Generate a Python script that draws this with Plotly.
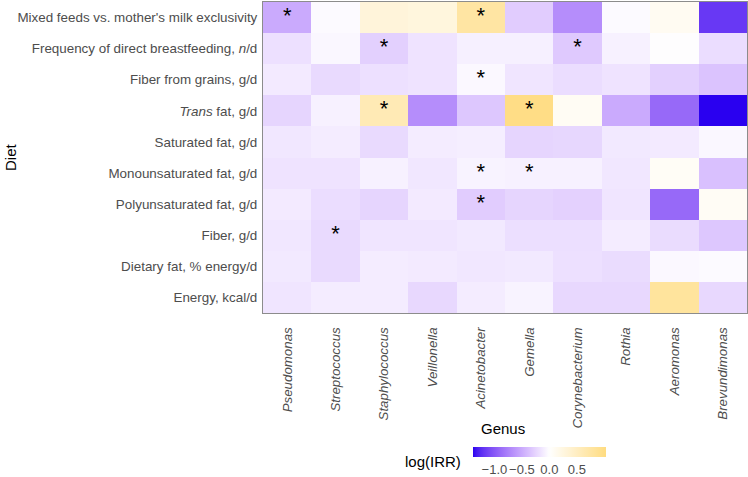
import plotly.graph_objects as go
import numpy as np

genera = ["Pseudomonas", "Streptococcus", "Staphylococcus", "Veillonella", "Acinetobacter",
          "Gemella", "Corynebacterium", "Rothia", "Aeromonas", "Brevundimonas"]

diet = ["Mixed feeds vs. mother's milk exclusivity",
        "Frequency of direct breastfeeding, <i>n</i>/d",
        "Fiber from grains, g/d",
        "<i>Trans</i> fat, g/d",
        "Saturated fat, g/d",
        "Monounsaturated fat, g/d",
        "Polyunsaturated fat, g/d",
        "Fiber, g/d",
        "Dietary fat, % energy/d",
        "Energy, kcal/d"]

# log(IRR) per diet row (top to bottom), columns in genus order
mixed_feeds   = [-0.50, -0.03, 0.30, 0.27, 0.75, -0.30, -0.68, -0.03, 0.10, -1.18]
freq_breast   = [-0.18, -0.05, -0.28, -0.16, -0.09, -0.09, -0.32, -0.08, 0.00, -0.20]
fiber_grains  = [-0.12, -0.22, -0.18, -0.16, -0.04, -0.15, -0.20, -0.16, -0.28, -0.35]
trans_fat     = [-0.25, -0.08, 0.60, -0.68, -0.33, 0.98, 0.09, -0.50, -0.90, -1.39]
saturated     = [-0.14, -0.11, -0.22, -0.11, -0.10, -0.25, -0.24, -0.13, -0.12, -0.05]
monounsat     = [-0.16, -0.16, -0.08, -0.14, -0.07, -0.08, -0.08, -0.14, 0.07, -0.37]
polyunsat     = [-0.12, -0.20, -0.25, -0.12, -0.30, -0.25, -0.27, -0.15, -0.90, 0.08]
fiber         = [-0.14, -0.22, -0.15, -0.15, -0.13, -0.19, -0.19, -0.11, -0.21, -0.33]
dietary_fat   = [-0.13, -0.22, -0.11, -0.12, -0.14, -0.13, -0.18, -0.21, -0.04, -0.03]
energy        = [-0.15, -0.11, -0.11, -0.23, -0.11, -0.07, -0.23, -0.23, 0.80, -0.23]

values = [mixed_feeds, freq_breast, fiber_grains, trans_fat, saturated,
          monounsat, polyunsat, fiber, dietary_fat, energy]

# significant cells: (diet index, genus index)
sig_diet  = [0, 0, 1, 1, 2, 3, 3, 5, 5, 6, 7]
sig_genus = [0, 4, 2, 6, 4, 2, 5, 4, 5, 4, 1]

cbar_ticks = [-1.0, -0.5, 0.0, 0.5]
cbar_ticktext = ["\u22121.0", "\u22120.5", "0.0", "0.5"]

ZMIN, ZMAX = -1.39, 1.03
LOW, MID, HIGH = "#2A00F0", "#FFFFFF", "#FFDC80"


# ---- Lab interpolation (like ggplot's gradient2) ----
def hex2rgb(h):
    h = h.lstrip("#")
    return [int(h[i:i + 2], 16) / 255 for i in (0, 2, 4)]

def srgb2lin(c):
    return c / 12.92 if c <= 0.04045 else ((c + 0.055) / 1.055) ** 2.4

def lin2srgb(c):
    c = min(max(c, 0), 1)
    return 12.92 * c if c <= 0.0031308 else 1.055 * c ** (1 / 2.4) - 0.055

WX, WY, WZ = 0.95047, 1.0, 1.08883

def rgb2lab(rgb):
    r, g, b = [srgb2lin(c) for c in rgb]
    X = 0.4124 * r + 0.3576 * g + 0.1805 * b
    Y = 0.2126 * r + 0.7152 * g + 0.0722 * b
    Z = 0.0193 * r + 0.1192 * g + 0.9505 * b
    def f(t):
        return t ** (1 / 3) if t > 0.008856 else 7.787 * t + 16 / 116
    fx, fy, fz = f(X / WX), f(Y / WY), f(Z / WZ)
    return [116 * fy - 16, 500 * (fx - fy), 200 * (fy - fz)]

def lab2rgb(lab):
    L, a, b = lab
    fy = (L + 16) / 116
    fx = fy + a / 500
    fz = fy - b / 200
    def finv(t):
        return t ** 3 if t ** 3 > 0.008856 else (t - 16 / 116) / 7.787
    X, Y, Z = WX * finv(fx), WY * finv(fy), WZ * finv(fz)
    r = 3.2406 * X - 1.5372 * Y - 0.4986 * Z
    g = -0.9689 * X + 1.8758 * Y + 0.0415 * Z
    bb = 0.0557 * X - 0.2040 * Y + 1.0570 * Z
    return [round(lin2srgb(c) * 255) for c in (r, g, bb)]

lab_low, lab_mid, lab_high = rgb2lab(hex2rgb(LOW)), rgb2lab(hex2rgb(MID)), rgb2lab(hex2rgb(HIGH))
colorscale = []
n = 60
for i in range(n + 1):
    v = ZMIN + (ZMAX - ZMIN) * i / n
    if v < 0:
        t = v / ZMIN
        lab = [lab_mid[k] + (lab_low[k] - lab_mid[k]) * t for k in range(3)]
    else:
        t = v / ZMAX
        lab = [lab_mid[k] + (lab_high[k] - lab_mid[k]) * t for k in range(3)]
    r, g, b = lab2rgb(lab)
    colorscale.append([i / n, f"rgb({r},{g},{b})"])

grey30 = "#4D4D4D"
PL, PR, PT, PB = 263, 747, 2, 313   # plot-area pixel edges
PW, PH = PR - PL, PB - PT

def px(x):
    return (x - PL) / PW

def py(y):
    return (PB - y) / PH

fig = go.Figure()
fig.add_trace(go.Heatmap(
    z=values, x=genera, y=diet,
    zmin=ZMIN, zmax=ZMAX, colorscale=colorscale,
    hovertemplate="%{y}<br>%{x}: %{z}<extra></extra>",
    colorbar=dict(
        orientation="h", x=px(539.5), xanchor="center", y=py(447), yanchor="top",
        lenmode="pixels", len=133, thickness=10, ypad=0, xpad=0,
        outlinewidth=0,
        tickvals=cbar_ticks, ticktext=cbar_ticktext, tickangle=0,
        ticks="outside", tickcolor="white", ticklen=2,
        tickfont=dict(family="Liberation Sans", size=13, color=grey30),
    ),
))

fig.add_trace(go.Scatter(
    x=[genera[g] for g in sig_genus], y=[diet[d] for d in sig_diet],
    mode="text", text=["*"] * len(sig_diet),
    textfont=dict(family="Liberation Sans", size=22, color="black"),
    textposition="middle center", hoverinfo="skip", showlegend=False,
))

fig.update_layout(
    width=748, height=477,
    margin=dict(l=PL, r=748 - PR, t=PT, b=477 - PB, autoexpand=False),
    paper_bgcolor="white", plot_bgcolor="white",
    font=dict(family="Liberation Sans", color=grey30),
    showlegend=False,
    annotations=[
        dict(text="Diet", x=px(10), y=py(157), xref="paper", yref="paper", showarrow=False,
             textangle=-90, xanchor="center", yanchor="middle",
             font=dict(size=15, color="black")),
        dict(text="Genus", x=px(503), y=py(428), xref="paper", yref="paper", showarrow=False,
             xanchor="center", yanchor="middle", font=dict(size=15, color="black")),
        dict(text="log(IRR)", x=px(433), y=py(461), xref="paper", yref="paper", showarrow=False,
             xanchor="center", yanchor="middle", font=dict(size=15, color="black")),
    ],
)

fig.update_xaxes(
    tickangle=-90, ticks="", ticklabelstandoff=8, automargin=False,
    tickfont=dict(family="Liberation Sans", size=13.3, color=grey30),
    tickprefix="<i>", ticksuffix="</i>",
    showline=True, mirror=True, linecolor="#8C8C8C", linewidth=1,
    showgrid=False, zeroline=False,
)
fig.update_yaxes(
    autorange="reversed", ticks="", ticklabelstandoff=2, automargin=False,
    tickfont=dict(family="Liberation Sans", size=13.4, color=grey30),
    showline=True, mirror=True, linecolor="#8C8C8C", linewidth=1,
    showgrid=False, zeroline=False,
)

fig.write_html(
    "out.html",
    config={"displayModeBar": False},
    post_script="document.body.style.margin='0';document.body.style.overflow='hidden';",
)
